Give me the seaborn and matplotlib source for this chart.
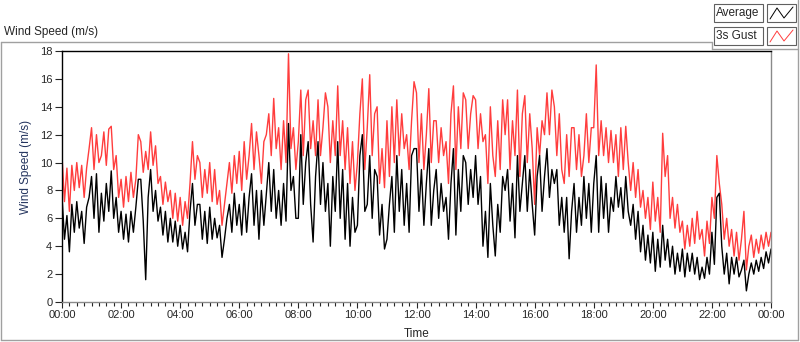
import numpy as np
import pandas as pd
import matplotlib.pyplot as plt
from matplotlib.lines import Line2D
from matplotlib.patches import Rectangle
from matplotlib.ticker import MultipleLocator
import seaborn as sns

# sample times in minutes after midnight (5 minute records)
minutes = list(range(0, 24 * 60 + 1, 5))
tick_hours = list(range(0, 25, 2))
tick_labels = ["00:00", "02:00", "04:00", "06:00", "08:00", "10:00", "12:00",
               "14:00", "16:00", "18:00", "20:00", "22:00", "00:00"]

# 3 second gust (m/s)
gust = [
    10.5, 7.2, 9.6, 6.5,  9.8, 8.0, 10.0, 8.2,  9.8, 7.5, 9.6, 11.0,
    12.5, 9.5, 12.0, 10.0,  10.5, 12.2, 9.8, 12.4,  12.6, 9.5, 10.5, 7.5,
    8.8, 6.8, 9.0, 7.2,  9.3, 7.5, 8.8, 12.0,  11.5, 9.3, 10.8, 9.5,
    12.2, 9.8, 11.2, 8.5,  9.0, 7.0, 8.6, 7.2,  8.0, 6.0, 7.8, 5.8,
    7.5, 5.5, 7.2, 6.0,  8.5, 11.5, 8.8, 10.5,  10.0, 7.5, 9.5, 7.8,
    10.0, 7.2, 9.5, 7.0,  8.0, 5.5, 7.0, 8.5,  10.0, 7.8, 10.5, 8.5,
    10.8, 8.0, 11.5, 8.8,  10.5, 12.8, 9.5, 12.2,  10.5, 8.5, 11.5, 12.0,
    13.5, 10.5, 14.6, 11.0,  12.5, 9.5, 13.0, 10.0,  17.8, 11.0, 12.5, 9.5,
    11.5, 15.2, 10.5, 14.5,  15.2, 11.0, 13.0, 10.5,  14.5, 10.5, 12.5, 15.0,
    14.0, 10.0, 13.0, 10.5,  15.5, 10.5, 13.0, 9.5,  12.5, 8.5, 11.5, 8.0,
    10.0, 13.5, 16.0, 9.5,  12.5, 16.3, 10.5, 13.5,  14.0, 8.5, 11.0, 8.2,
    13.0, 9.0, 14.0, 10.0,  14.5, 10.5, 13.5, 11.0,  12.0, 9.5, 13.0, 15.8,
    15.0, 10.0, 13.5, 9.5,  12.0, 15.3, 10.0, 13.0,  13.0, 10.0, 12.5, 10.5,
    11.5, 8.5, 13.5, 15.5,  9.5, 14.0, 11.0, 15.0,  14.5, 11.0, 13.5, 14.8,
    14.5, 11.0, 13.5, 11.5,  12.0, 8.5, 14.0, 10.5,  9.0, 13.0, 9.5, 14.5,
    12.0, 14.5, 9.5, 13.0,  10.5, 15.2, 9.0, 13.5,  14.8, 10.0, 13.5, 11.0,
    7.0, 12.5, 10.5, 13.0,  12.0, 15.0, 12.0, 15.2,  14.0, 10.5, 13.5, 9.5,
    8.5, 12.0, 9.0, 12.5,  12.5, 9.5, 12.0, 9.0,  10.5, 13.5, 10.0, 12.5,
    12.5, 17.0, 10.5, 13.0,  10.5, 12.5, 10.0, 12.3,  10.0, 12.0, 9.0, 12.5,
    9.5, 12.6, 10.0, 8.0,  10.0, 7.5, 9.5, 6.8,  8.0, 6.0, 7.5, 5.2,
    8.6, 5.8, 7.5, 5.0,  12.1, 9.0, 10.5, 6.0,  7.5, 5.3, 7.0, 5.0,
    5.8, 3.8, 5.5, 4.0,  6.0, 4.2, 6.5, 4.5,  5.2, 3.3, 5.8, 4.2,
    7.5, 6.0, 10.5, 8.5,  7.0, 4.5, 6.0, 4.0,  5.2, 3.3, 5.0, 3.0,
    4.5, 6.5, 2.3, 4.0,  4.8, 3.2, 4.5, 3.5,  4.8, 3.8, 5.0, 4.0,
    5.0,
]

# average wind speed (m/s)
average = [
    7.6, 4.5, 6.2, 3.6,  7.0, 5.0, 7.2, 5.3,  6.5, 4.2, 6.8, 7.5,
    9.0, 6.0, 9.2, 5.0,  7.8, 5.8, 8.5, 6.5,  9.4, 6.0, 7.5, 5.0,
    6.5, 4.5, 6.3, 4.3,  6.5, 5.0, 6.8, 8.8,  8.8, 5.8, 1.6, 7.5,
    9.5, 6.5, 8.0, 5.8,  6.8, 4.8, 6.5, 4.3,  6.0, 4.3, 5.8, 4.0,
    5.5, 3.8, 5.0, 3.6,  6.5, 8.5, 5.5, 7.0,  7.0, 4.5, 6.5, 4.2,
    6.8, 4.5, 6.0, 4.6,  5.5, 3.2, 4.5, 6.0,  7.0, 5.0, 7.8, 5.5,
    7.0, 4.8, 7.8, 5.0,  7.5, 9.2, 5.5, 8.0,  4.5, 8.0, 5.5, 7.8,
    10.0, 6.5, 9.5, 6.0,  8.0, 5.5, 8.5, 5.8,  12.8, 8.0, 9.0, 6.0,
    6.0, 12.0, 7.0, 10.0,  11.5, 7.0, 4.3, 9.0,  11.5, 7.0, 10.0, 6.5,
    8.5, 4.0, 9.0, 6.5,  11.5, 6.0, 9.5, 4.5,  8.5, 4.0, 7.5, 5.0,
    5.5, 10.5, 12.0, 6.5,  7.0, 10.5, 6.0, 9.5,  9.0, 4.8, 7.0, 3.8,
    4.5, 7.0, 9.0, 5.0,  10.5, 6.5, 9.5, 5.5,  8.5, 5.0, 10.5, 11.0,
    11.0, 6.5, 9.5, 5.5,  8.5, 11.0, 5.5, 8.0,  9.5, 6.0, 8.5, 6.5,
    7.5, 4.5, 8.5, 11.0,  4.8, 9.5, 6.5, 10.5,  10.0, 7.0, 9.5, 7.5,
    10.5, 7.0, 9.0, 4.0,  6.5, 3.2, 8.5, 5.5,  3.3, 7.0, 5.0, 9.0,
    8.0, 9.5, 5.8, 8.5,  4.6, 10.5, 6.5, 8.5,  10.5, 6.5, 9.5, 7.0,
    4.8, 9.0, 10.5, 6.5,  9.0, 11.0, 7.5, 9.5,  8.5, 9.5, 5.5, 7.5,
    5.0, 7.5, 3.1, 6.5,  8.5, 5.0, 7.5, 5.5,  9.0, 6.0, 8.5, 5.0,
    8.5, 10.5, 5.0, 9.0,  6.0, 8.5, 5.0, 7.5,  6.5, 9.0, 6.8, 8.2,
    6.0, 9.0, 6.5, 5.5,  7.0, 4.5, 6.5, 3.6,  5.5, 3.0, 4.8, 2.8,
    5.0, 2.2, 4.5, 2.5,  5.5, 3.0, 4.5, 2.5,  4.0, 2.0, 3.5, 2.2,
    3.8, 1.8, 3.5, 2.2,  3.5, 2.0, 3.2, 1.6,  2.5, 1.7, 3.2, 2.0,
    5.0, 2.7, 7.5, 7.8,  4.0, 2.0, 3.5, 1.3,  3.2, 2.0, 3.2, 1.8,
    2.3, 3.0, 0.8, 2.0,  2.8, 2.0, 3.0, 2.2,  3.2, 2.4, 3.6, 2.8,
    3.8,
]

df = pd.DataFrame({
    "Hours": np.array(minutes) / 60.0,
    "Average": average,
    "3s Gust": gust,
})

sns.set_style("white")
plt.rcParams['font.family'] = ['Liberation Sans', 'DejaVu Sans']
plt.rcParams['font.size'] = 8

W, H = 800, 342
fig = plt.figure(figsize=(W / 100, H / 100), dpi=100)
ax = fig.add_axes([62 / W, 1 - 302 / H, (771 - 62) / W, (302 - 51) / H])

red = "#ff3d3d"
# gust first, average drawn over it
sns.lineplot(data=df, x="Hours", y="3s Gust", color=red, lw=1.0, ax=ax)
sns.lineplot(data=df, x="Hours", y="Average", color="black", lw=1.0, ax=ax)

ax.set_xlim(0, 24)
ax.set_ylim(0, 18)
ax.set_yticks(range(0, 19, 2))
ax.set_xticks(tick_hours)
ax.set_xticklabels(tick_labels)
ax.xaxis.set_minor_locator(MultipleLocator(0.25))
ax.tick_params(axis="y", direction="out", length=5, width=0.8, pad=2, left=True)
ax.tick_params(axis="x", which="major", direction="out", length=4, width=0.8, pad=1.5, bottom=True)
ax.tick_params(axis="x", which="minor", direction="out", length=3, width=0.8, bottom=True)

for side in ["left", "top"]:
    ax.spines[side].set_color("black")
    ax.spines[side].set_linewidth(1)
for side in ["right", "bottom"]:
    ax.spines[side].set_color("#8a8a8a")
    ax.spines[side].set_linewidth(1)

ax.set_xlabel("Time", fontsize=8.5)
ax.xaxis.label.set_verticalalignment("center")
ax.xaxis.set_label_coords(0.5, -(334 - 302) / 251)
ax.set_ylabel("Wind Speed (m/s)", fontsize=8.5, color="#24345e")
ax.yaxis.set_label_coords(-30 / 709, (302 - 167) / 251)


def fx(x):
    return x / W


def fy(y):
    return 1 - y / H


# panel frame (grey) with a notch for the legend
frame = "#a0a0a0"
segs = [((1, 42), (712, 42)), ((712, 42), (712, 49)), ((712, 49), (798, 49)),
        ((798, 0), (798, 340)), ((1, 42), (1, 340)), ((1, 340), (798, 340))]
for (x0, y0), (x1, y1) in segs:
    fig.add_artist(Line2D([fx(x0), fx(x1)], [fy(y0), fy(y1)], color=frame, lw=1))

fig.text(fx(4), fy(32), "Wind Speed (m/s)", fontsize=8.5, va="center", ha="left")

# legend boxes
for row, (name, col) in enumerate([("Average", "black"), ("3s Gust", red)]):
    top = 4 + row * 23
    fig.add_artist(Rectangle((fx(714), fy(top + 18)), 49 / W, 18 / H, facecolor="white",
                             edgecolor="#606060", lw=0.8))
    fig.add_artist(Rectangle((fx(767), fy(top + 18)), 29 / W, 18 / H, facecolor="white",
                             edgecolor="#606060", lw=0.8))
    fig.text(fx(716), fy(top + 9), name, fontsize=8.5, va="center", ha="left")
    gx = [770, 777, 784, 793]
    gy = [top + 15, top + 4, top + 14, top + 3]
    fig.add_artist(Line2D([fx(v) for v in gx], [fy(v) for v in gy], color=col, lw=0.7))

fig.savefig("out.png", dpi=100)
